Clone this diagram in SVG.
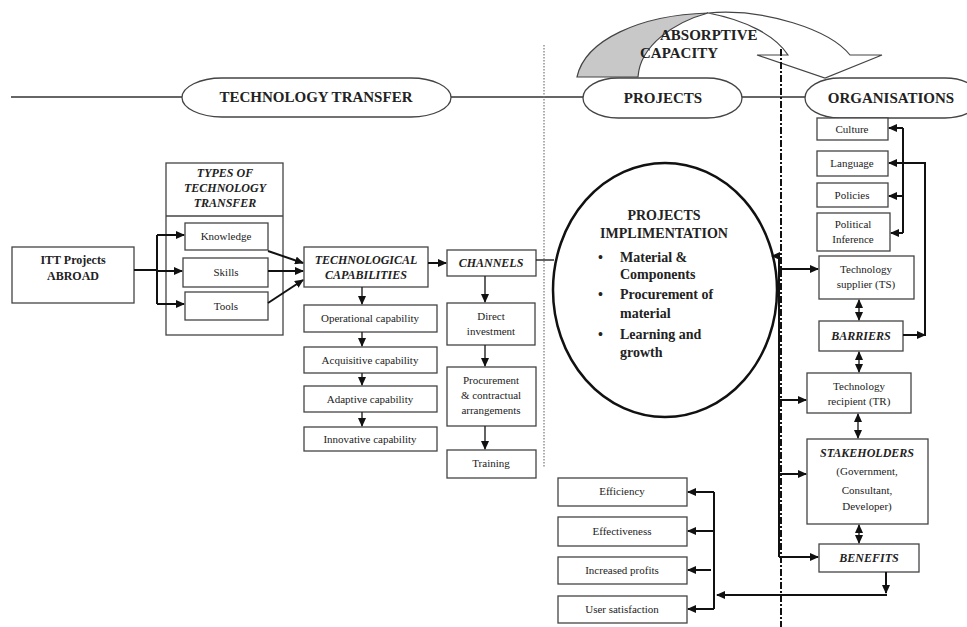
<svg xmlns="http://www.w3.org/2000/svg" width="967" height="627" viewBox="0 0 967 627">
<defs>
<marker id="ah" markerUnits="userSpaceOnUse" markerWidth="9" markerHeight="8" refX="8" refY="4" orient="auto-start-reverse">
<path d="M0,0 L9,4 L0,8 z" fill="#111"/>
</marker>
<style>
.bx{fill:#fff;stroke:#444;stroke-width:1.3}
.t{font-size:11px;fill:#222;text-anchor:middle}
.bi{font-size:12px;font-weight:bold;font-style:italic;fill:#222;text-anchor:middle}
.b{font-weight:bold;fill:#222}
.c{fill:none;stroke:#111;stroke-width:2}
.cs{fill:none;stroke:#222;stroke-width:1.4}
.pill{fill:#fff;stroke:#444;stroke-width:1.3}
</style>
</defs>
<rect width="967" height="627" fill="#fff"/>
<g font-family="Liberation Serif, DejaVu Serif, serif">
<!-- top band -->
<g id="band">
<line x1="11" y1="97" x2="967" y2="97" stroke="#333" stroke-width="1.3"/>
<line x1="544" y1="45" x2="544" y2="468" stroke="#777" stroke-width="1.2" stroke-dasharray="1.5 1.5"/>
</g>
<g id="absorptive">
<path d="M577,77 C585,40 640,15 708,13 C675,22 640,45 638,77 Z" fill="#c8c8c8" stroke="#444" stroke-width="1.2"/>
<path d="M708,13 C765,8 830,30 850,55 L882,55 L825,78 L757,55 L788,55 C775,35 745,20 708,13 Z" fill="#fff" stroke="#444" stroke-width="1.2"/>
<text class="b" x="660" y="40" font-size="15">ABSORPTIVE</text>
<text class="b" x="640" y="58" font-size="15">CAPACITY</text>
</g>
<line x1="781" y1="49" x2="781" y2="627" stroke="#111" stroke-width="2" stroke-dasharray="7 2 2 2"/>
<g id="tt-pill">
<rect class="pill" x="182" y="78" width="269" height="39" rx="40" ry="19.5"/>
<text class="b" x="316" y="102" font-size="15" text-anchor="middle">TECHNOLOGY TRANSFER</text>
</g>
<g id="projects-pill">
<rect class="pill" x="583" y="78" width="159" height="40" rx="35" ry="20"/>
<text class="b" x="663" y="103" font-size="15" text-anchor="middle">PROJECTS</text>
</g>
<g id="org-pill">
<rect class="pill" x="805" y="78" width="175" height="40" rx="35" ry="20"/>
<text class="b" x="891" y="103" font-size="15" text-anchor="middle">ORGANISATIONS</text>
</g>

<!-- left nodes -->
<g id="itt"><rect class="bx" x="12" y="247" width="122" height="56"/>
<text class="b" x="73" y="264" font-size="12" text-anchor="middle">ITT Projects</text>
<text class="b" x="73" y="280" font-size="12" text-anchor="middle">ABROAD</text></g>
<g id="types"><rect class="bx" x="166" y="163" width="117" height="172"/>
<line x1="166" y1="216" x2="283" y2="216" stroke="#444" stroke-width="1.3"/>
<text class="bi" x="225" y="177">TYPES OF</text>
<text class="bi" x="225" y="192">TECHNOLOGY</text>
<text class="bi" x="225" y="207">TRANSFER</text></g>
<g id="knowledge"><rect class="bx" x="185" y="223" width="83" height="27"/><text class="t" x="226" y="240">Knowledge</text></g>
<g id="skills"><rect class="bx" x="183" y="258" width="85" height="29"/><text class="t" x="226" y="276">Skills</text></g>
<g id="tools"><rect class="bx" x="185" y="292" width="83" height="28"/><text class="t" x="226" y="310">Tools</text></g>
<g id="techcap"><rect class="bx" x="304" y="247" width="124" height="40"/>
<text class="bi" x="366" y="264">TECHNOLOGICAL</text>
<text class="bi" x="366" y="279">CAPABILITIES</text></g>
<g id="channels"><rect class="bx" x="447" y="250" width="89" height="26"/><text class="bi" x="491" y="267">CHANNELS</text></g>
<g id="operational"><rect class="bx" x="304" y="305" width="133" height="27"/><text class="t" x="370" y="322">Operational capability</text></g>
<g id="acquisitive"><rect class="bx" x="304" y="347" width="133" height="26"/><text class="t" x="370" y="364">Acquisitive capability</text></g>
<g id="adaptive"><rect class="bx" x="304" y="386" width="133" height="26"/><text class="t" x="370" y="403">Adaptive capability</text></g>
<g id="innovative"><rect class="bx" x="304" y="427" width="133" height="24"/><text class="t" x="370" y="443">Innovative capability</text></g>
<g id="direct"><rect class="bx" x="447" y="303" width="88" height="42"/>
<text class="t" x="491" y="320">Direct</text><text class="t" x="491" y="335">investment</text></g>
<g id="procurement"><rect class="bx" x="447" y="367" width="89" height="59"/>
<text class="t" x="491" y="384">Procurement</text><text class="t" x="491" y="399">&amp; contractual</text><text class="t" x="491" y="414">arrangements</text></g>
<g id="training"><rect class="bx" x="447" y="450" width="89" height="28"/><text class="t" x="491" y="467">Training</text></g>

<!-- ellipse -->
<g id="implementation">
<ellipse cx="665" cy="290" rx="112" ry="127" fill="#fff" stroke="#111" stroke-width="2.5"/>
<text class="b" x="664" y="220" font-size="14" text-anchor="middle">PROJECTS</text>
<text class="b" x="664" y="238" font-size="14" text-anchor="middle">IMPLIMENTATION</text>
<text class="b" x="598" y="262" font-size="14">•</text>
<text class="b" x="620" y="262" font-size="14">Material &amp;</text>
<text class="b" x="620" y="279" font-size="14">Components</text>
<text class="b" x="598" y="299" font-size="14">•</text>
<text class="b" x="620" y="299" font-size="14">Procurement of</text>
<text class="b" x="620" y="318" font-size="14">material</text>
<text class="b" x="598" y="339" font-size="14">•</text>
<text class="b" x="620" y="339" font-size="14">Learning and</text>
<text class="b" x="620" y="357" font-size="14">growth</text>
</g>

<!-- right column -->
<g id="culture"><rect class="bx" x="817" y="118" width="71" height="22"/><text class="t" x="852" y="133">Culture</text></g>
<g id="language"><rect class="bx" x="817" y="151" width="71" height="25"/><text class="t" x="852" y="167">Language</text></g>
<g id="policies"><rect class="bx" x="817" y="183" width="71" height="24"/><text class="t" x="852" y="199">Policies</text></g>
<g id="political"><rect class="bx" x="817" y="213" width="73" height="38"/><text class="t" x="853" y="228">Political</text><text class="t" x="853" y="243">Inference</text></g>
<g id="supplier"><rect class="bx" x="819" y="256" width="95" height="43"/><text class="t" x="866" y="273">Technology</text><text class="t" x="866" y="288">supplier (TS)</text></g>
<g id="barriers"><rect class="bx" x="819" y="321" width="84" height="30"/><text class="bi" x="861" y="340">BARRIERS</text></g>
<g id="recipient"><rect class="bx" x="807" y="373" width="104" height="40"/><text class="t" x="859" y="390">Technology</text><text class="t" x="859" y="405">recipient (TR)</text></g>
<g id="stakeholders"><rect class="bx" x="807" y="439" width="121" height="85"/>
<text class="bi" x="867" y="457">STAKEHOLDERS</text>
<text class="t" x="867" y="475">(Government,</text>
<text class="t" x="867" y="494">Consultant,</text>
<text class="t" x="867" y="510">Developer)</text></g>
<g id="benefits"><rect class="bx" x="819" y="544" width="100" height="28"/><text class="bi" x="869" y="562">BENEFITS</text></g>

<!-- bottom boxes -->
<g id="efficiency"><rect class="bx" x="558" y="478" width="129" height="28"/><text class="t" x="622" y="495">Efficiency</text></g>
<g id="effectiveness"><rect class="bx" x="558" y="517" width="129" height="29"/><text class="t" x="622" y="535">Effectiveness</text></g>
<g id="profits"><rect class="bx" x="558" y="557" width="129" height="27"/><text class="t" x="622" y="574">Increased profits</text></g>
<g id="satisfaction"><rect class="bx" x="558" y="596" width="129" height="27"/><text class="t" x="622" y="613">User satisfaction</text></g>
</g>
<!-- connectors -->
<g id="connectors">
<path class="c" d="M134,270 H157"/>
<path class="c" d="M157,235 V304"/>
<path class="c" d="M157,235 H184" marker-end="url(#ah)"/>
<path class="c" d="M157,271 H182" marker-end="url(#ah)"/>
<path class="c" d="M157,304 H184" marker-end="url(#ah)"/>
<path class="c" d="M268,251 L303,263" marker-end="url(#ah)"/>
<path class="c" d="M268,271 H303" marker-end="url(#ah)"/>
<path class="c" d="M268,303 L303,280" marker-end="url(#ah)"/>
<path class="c" d="M428,263 H446" marker-end="url(#ah)"/>
<path class="cs" d="M362,287 V304" marker-end="url(#ah)"/>
<path class="cs" d="M362,332 V346" marker-end="url(#ah)"/>
<path class="cs" d="M362,373 V385" marker-end="url(#ah)"/>
<path class="cs" d="M362,412 V426" marker-end="url(#ah)"/>
<path class="cs" d="M485,276 V302" marker-end="url(#ah)"/>
<path class="cs" d="M485,345 V366" marker-end="url(#ah)"/>
<path class="cs" d="M485,426 V449" marker-end="url(#ah)"/>
<path class="cs" d="M536,260 H554"/>
<path class="c" d="M779,557 V256 H772" marker-end="url(#ah)"/>
<path class="c" d="M779,269 H818" marker-end="url(#ah)"/>
<path class="c" d="M779,400 H806" marker-end="url(#ah)"/>
<path class="c" d="M779,474 H806" marker-end="url(#ah)"/>
<path class="c" d="M779,557 H818" marker-end="url(#ah)"/>
<path class="c" d="M903,128 V233"/>
<path class="c" d="M903,128 H889" marker-end="url(#ah)"/>
<path class="c" d="M903,196 H889" marker-end="url(#ah)"/>
<path class="c" d="M903,233 H891" marker-end="url(#ah)"/>
<path class="c" d="M903,335 H925" marker-end="url(#ah)"/>
<path class="c" d="M925,336 V163 H889" marker-end="url(#ah)"/>
<path class="cs" d="M859,300 V320" marker-start="url(#ah)" marker-end="url(#ah)"/>
<path class="cs" d="M859,352 V372" marker-start="url(#ah)" marker-end="url(#ah)"/>
<path class="cs" d="M858,414 V438" marker-start="url(#ah)" marker-end="url(#ah)"/>
<path class="cs" d="M859,525 V543" marker-start="url(#ah)" marker-end="url(#ah)"/>
<path class="c" d="M886,572 V593" marker-end="url(#ah)"/>
<path class="c" d="M887,595 H717" marker-end="url(#ah)"/>
<path class="c" d="M714,492 V609"/>
<path class="c" d="M714,492 H688" marker-end="url(#ah)"/>
<path class="c" d="M714,531 H688" marker-end="url(#ah)"/>
<path class="c" d="M711,570 H688" marker-end="url(#ah)"/>
<path class="c" d="M714,609 H688" marker-end="url(#ah)"/>
</g>
</svg>
